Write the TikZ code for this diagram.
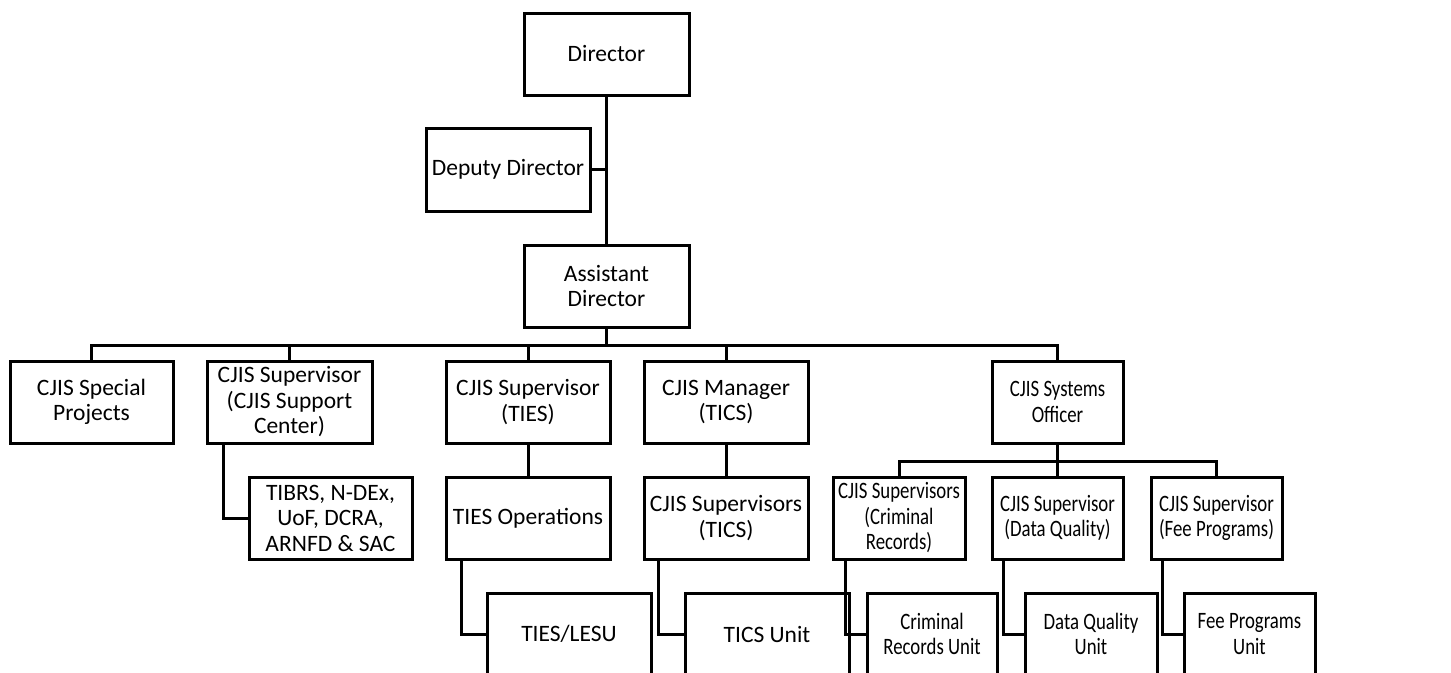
\documentclass[tikz,border=0pt]{standalone}
\usepackage{fontspec}
\setmainfont{Carlito}
\newfontfamily\narrowfont[FakeStretch=0.8]{Carlito}
\begin{document}
\begin{tikzpicture}[x=1pt,y=-1pt,
  box/.style={draw=black,line width=3pt,rectangle,inner sep=0pt,align=center,
    minimum height=82pt,font=\fontsize{23.5}{25.5}\selectfont},
  nbox/.style={box,font=\narrowfont\fontsize{23.5}{25.5}\selectfont},
  link/.style={draw=black,line width=3pt}]
\clip (0,0) rectangle (1451,672);
\fill[white] (0,0) rectangle (1451,672);
% level 0-1
\node[box,minimum width=165pt] (dir) at (606.5,54) {Director};
\node[box,minimum width=164pt,minimum height=83pt] (dep) at (508,169.5) {Deputy Director};
\node[box,minimum width=165pt] (ast) at (606.5,286) {Assistant\\Director};
% level 2
\node[box,minimum width=163pt] (sp) at (91.5,402) {CJIS Special\\Projects};
\node[box,minimum width=165pt] (sc) at (289.5,402) {CJIS Supervisor\\(CJIS Support\\Center)};
\node[box,minimum width=164pt] (ties) at (528,402) {CJIS Supervisor\\(TIES)};
\node[box,minimum width=164pt] (tics) at (726,402) {CJIS Manager\\(TICS)};
\node[nbox,minimum width=131pt] (cso) at (1057.5,402) {CJIS Systems\\Officer};
% level 3
\node[box,minimum width=163pt] (tibrs) at (330.5,518) {TIBRS, N-DEx,\\UoF, DCRA,\\ARNFD \& SAC};
\node[box,minimum width=164pt] (tops) at (528,518) {TIES Operations};
\node[box,minimum width=164pt] (ticsup) at (726,518) {CJIS Supervisors\\(TICS)};
\node[nbox,minimum width=132pt] (crs) at (899,518) {CJIS Supervisors\\(Criminal\\Records)};
\node[nbox,minimum width=131pt] (dqs) at (1057.5,518) {CJIS Supervisor\\(Data Quality)};
\node[nbox,minimum width=131pt] (fps) at (1216.5,518) {CJIS Supervisor\\(Fee Programs)};
% level 4
\node[box,minimum width=164pt] (lesu) at (569,634) {TIES/LESU};
\node[box,minimum width=164pt] (ticsu) at (767,634) {TICS Unit};
\node[nbox,minimum width=130pt] (cru) at (932,634) {Criminal\\Records Unit};
\node[nbox,minimum width=132pt] (dqu) at (1091,634) {Data Quality\\Unit};
\node[nbox,minimum width=131pt] (fpu) at (1249.5,634) {Fee Programs\\Unit};
% connectors
\draw[link] (dir.south) -- (ast.north);
\draw[link] (dep.east) -- (dep.east -| dir.south);
\foreach \c in {sp,sc,ties,tics,cso}
  \draw[link] (ast.south) -- ++(0,17) -| (\c.north);
\draw[link] (ties.south) -- (tops.north);
\draw[link] (tics.south) -- (ticsup.north);
\foreach \c in {crs,dqs,fps}
  \draw[link] (cso.south) -- ++(0,17) -| (\c.north);
\draw[link] ([xshift=18pt]sc.south west) |- (tibrs.west);
\draw[link] ([xshift=17pt]tops.south west) |- (lesu.west);
\draw[link] ([xshift=16pt]ticsup.south west) |- (ticsu.west);
\draw[link] ([xshift=14pt]crs.south west) |- (cru.west);
\draw[link] ([xshift=13pt]dqs.south west) |- (dqu.west);
\draw[link] ([xshift=13pt]fps.south west) |- (fpu.west);
\end{tikzpicture}
\end{document}
